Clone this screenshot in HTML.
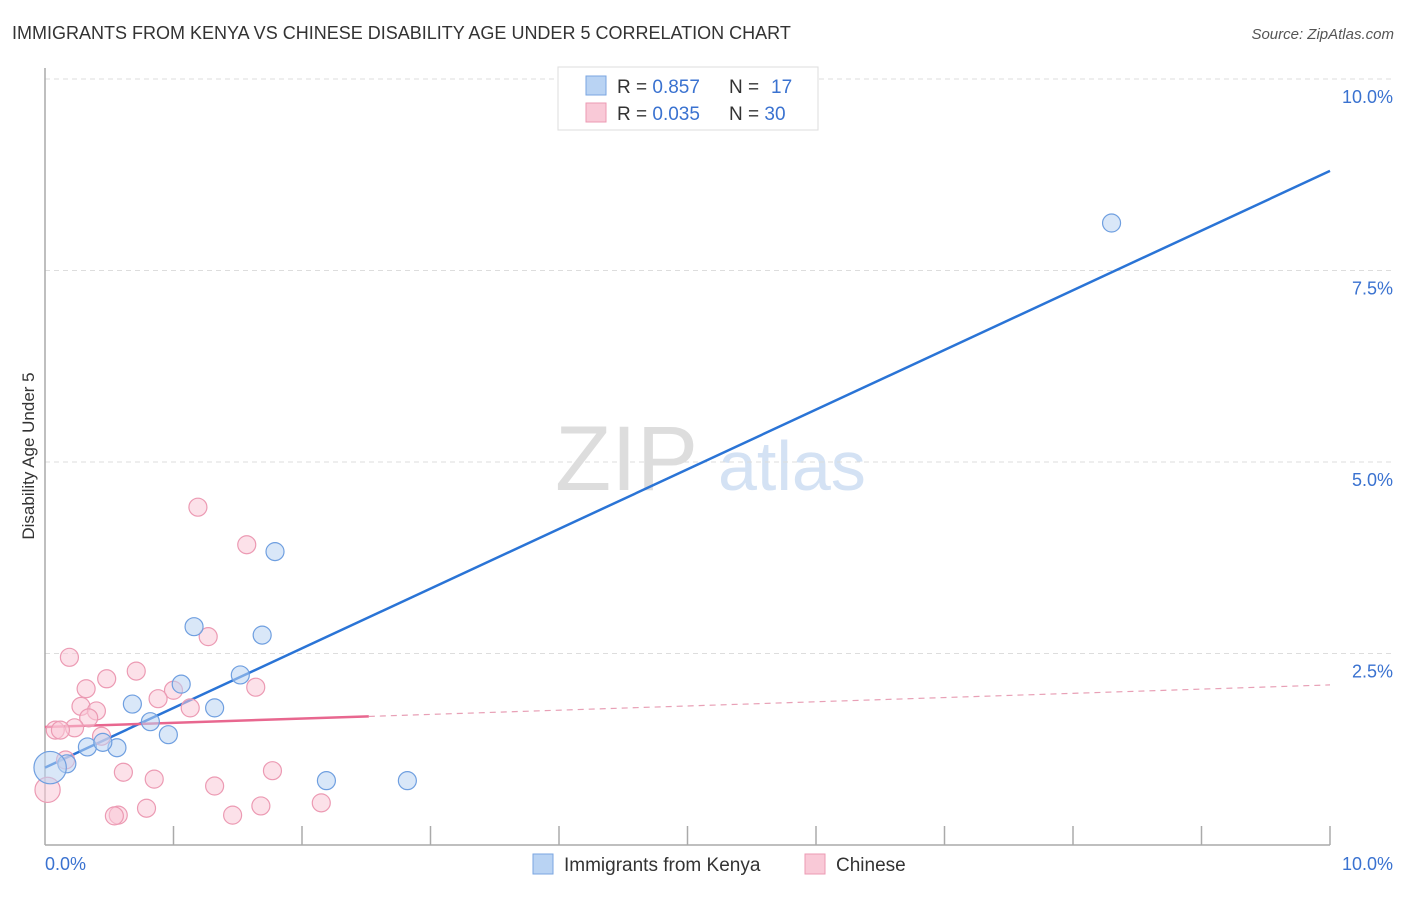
<!DOCTYPE html>
<html><head><meta charset="utf-8"><style>
body{margin:0;background:#fff;font-family:"Liberation Sans",sans-serif;}
svg text{font-family:"Liberation Sans",sans-serif;}
</style></head><body>
<svg id="chart" width="1406" height="892" xmlns="http://www.w3.org/2000/svg">
<text x="12" y="39" font-size="18" fill="#333">IMMIGRANTS FROM KENYA VS CHINESE DISABILITY AGE UNDER 5 CORRELATION CHART</text>
<text x="1394" y="39" font-size="15" fill="#555" font-style="italic" text-anchor="end">Source: ZipAtlas.com</text>
<text x="0" y="0" transform="translate(34,456) rotate(-90)" font-size="17" fill="#333" text-anchor="middle">Disability Age Under 5</text>
<g><text x="555" y="490" font-size="92" fill="#ddd" font-family="Liberation Serif">ZIP</text><text x="718" y="490" font-size="70" fill="#d4e2f4">atlas</text></g>
<g id="grid"></g><g id="axes"></g><g id="lines"></g><g id="pts"></g>
<g>
<rect x="558" y="67" width="260" height="63" fill="#fff" stroke="#ddd"/>
<rect x="586" y="76" width="20" height="19" fill="#b9d3f3" stroke="#7aa6e0"/>
<rect x="586" y="103" width="20" height="19" fill="#f9c9d7" stroke="#ec9ab3"/>
<text x="617" y="93" font-size="19" fill="#333">R = <tspan fill="#3a72d0">0.857</tspan><tspan x="729">N = </tspan><tspan fill="#3a72d0" x="771">17</tspan></text>
<text x="617" y="120" font-size="19" fill="#333">R = <tspan fill="#3a72d0">0.035</tspan><tspan x="729">N = </tspan><tspan fill="#3a72d0">30</tspan></text>
</g>
<g>
<rect x="533" y="854" width="20" height="20" fill="#b9d3f3" stroke="#7aa6e0"/>
<text x="564" y="871" font-size="19" fill="#333">Immigrants from Kenya</text>
<rect x="805" y="854" width="20" height="20" fill="#f9c9d7" stroke="#ec9ab3"/>
<text x="836" y="871" font-size="19" fill="#333">Chinese</text>
</g>
</svg>
<script>
const yTicks=[2.5,5.0,7.5,10.0];
const yTickLabels=["2.5%","5.0%","7.5%","10.0%"];
const kenyaX=[8.30,1.79,1.16,1.69,1.06,1.52,0.68,0.82,1.32,0.96,0.33,0.56,0.45,0.17,0.04,2.19,2.82];
const kenyaY=[8.12,3.83,2.85,2.74,2.10,2.22,1.84,1.61,1.79,1.44,1.28,1.27,1.34,1.06,1.01,0.84,0.84];
const kenyaSize=[1,1,1,1,1,1,1,1,1,1,1,1,1,1,1.8,1,1];
const chineseX=[1.19,1.57,0.19,1.27,0.71,0.48,0.32,1.00,1.64,0.88,0.28,0.40,1.13,0.34,0.23,0.08,0.12,0.44,0.16,0.61,0.85,1.32,1.77,0.02,1.68,2.15,0.79,0.57,0.54,1.46];
const chineseY=[4.41,3.92,2.45,2.72,2.27,2.17,2.04,2.02,2.06,1.91,1.81,1.75,1.79,1.66,1.53,1.50,1.50,1.42,1.11,0.95,0.86,0.77,0.97,0.72,0.51,0.55,0.48,0.39,0.38,0.39];
const chineseSize=[1,1,1,1,1,1,1,1,1,1,1,1,1,1,1,1,1,1,1,1,1,1,1,1.4,1,1,1,1,1,1];
const kenyaTrend=[1.01,8.80];
const chineseTrend=[1.54,2.09];
const chineseSolidEnd=2.52;
const X=v=>45+v*128.5, Y=v=>845-v*76.6;
const NS="http://www.w3.org/2000/svg";
function mk(p,t,a){const e=document.createElementNS(NS,t);for(const k in a)e.setAttribute(k,a[k]);document.getElementById(p).appendChild(e);return e;}
yTicks.forEach((t,i)=>{
 const l=mk('grid','line',{x1:45,x2:1395,y1:Y(t),y2:Y(t),stroke:'#ddd','stroke-dasharray':'5,4'});
 
 
 const tx=mk('grid','text',{x:1393,y:Y(t)+24,'font-size':18,fill:'#3a72d0','text-anchor':'end'});
 tx.textContent=yTickLabels[i];
 
 
});
let a=mk('axes','line',{x1:45,x2:45,y1:68,y2:845,stroke:'#aaa','stroke-width':1.5});


a=mk('axes','line',{x1:45,x2:1330,y1:845,y2:845,stroke:'#aaa','stroke-width':1.5});


for(let i=1;i<=10;i++){const t=mk('axes','line',{x1:X(i),x2:X(i),y1:826,y2:845,stroke:'#aaa','stroke-width':1.5});
 
 }
let xl=mk('axes','text',{x:45,y:870,'font-size':18,fill:'#3a72d0'});xl.textContent='0.0%';


xl=mk('axes','text',{x:1393,y:870,'font-size':18,fill:'#3a72d0','text-anchor':'end'});xl.textContent='10.0%';


function pts(xs,ys,sz,fill,stroke,name){xs.forEach((x,i)=>{const c=mk('pts','circle',{cx:X(x),cy:Y(ys[i]),r:9*sz[i],fill:fill,stroke:stroke,'stroke-width':1.2,'fill-opacity':0.55});
 
 });}
let l=mk('lines','line',{x1:X(0),y1:Y(kenyaTrend[0]),x2:X(10),y2:Y(kenyaTrend[1]),stroke:'#2a74d6','stroke-width':2.5});


const cy=v=>chineseTrend[0]+(chineseTrend[1]-chineseTrend[0])*v/10;
l=mk('lines','line',{x1:X(0),y1:Y(cy(0)),x2:X(chineseSolidEnd),y2:Y(cy(chineseSolidEnd)),stroke:'#e8678f','stroke-width':2.5});


l=mk('lines','line',{x1:X(chineseSolidEnd),y1:Y(cy(chineseSolidEnd)),x2:X(10),y2:Y(cy(10)),stroke:'#e8a0b6','stroke-width':1.2,'stroke-dasharray':'6,5'});


pts(chineseX,chineseY,chineseSize,'#f9c9d7','#ec9ab3','chinese-point');
pts(kenyaX,kenyaY,kenyaSize,'#b9d3f3','#6f9fe0','kenya-point');
</script>
</body></html>
